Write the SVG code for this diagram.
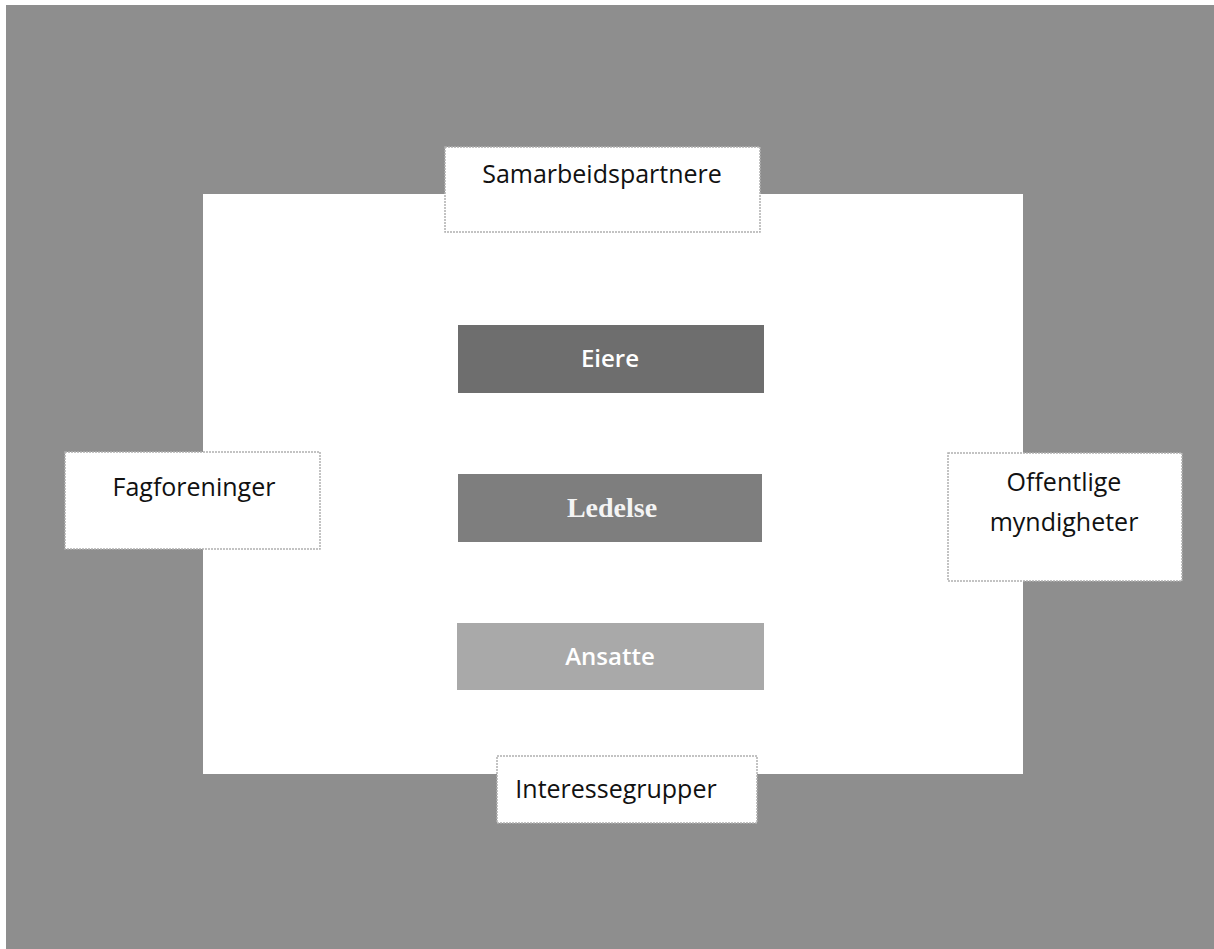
<svg xmlns="http://www.w3.org/2000/svg" width="1214" height="949" viewBox="0 0 1214 949">
<style>
.outer{fill:#ffffff;stroke:#b0b0b0;stroke-width:1.5;stroke-dasharray:2 1}
.lbl{font-family:"Open Sans","Liberation Sans",sans-serif;font-size:25px;fill:#111;text-anchor:middle}
.inlbl{font-family:"Open Sans","Liberation Sans",sans-serif;font-size:24px;font-weight:600;fill:#fff;text-anchor:middle}
.serif{font-family:"Liberation Serif",serif;font-size:28px;font-weight:bold;fill:#f4f4f4;text-anchor:middle}
</style>
<rect x="0" y="0" width="1214" height="949" fill="#ffffff"/>
<rect id="background" x="6" y="5" width="1208" height="944" fill="#8e8e8e"/>
<rect id="inner" x="203" y="194" width="820" height="580" fill="#ffffff"/>
<g id="samarbeidspartnere">
<rect class="outer" x="445" y="147" width="315" height="85"/>
<text class="lbl" x="602" y="183">Samarbeidspartnere</text>
</g>
<g id="eiere">
<rect x="458" y="325" width="306" height="68" fill="#6e6e6e"/>
<text class="inlbl" x="610" y="367">Eiere</text>
</g>
<g id="ledelse">
<rect x="458" y="474" width="304" height="68" fill="#7e7e7e"/>
<text class="serif" x="612" y="517">Ledelse</text>
</g>
<g id="ansatte">
<rect x="457" y="623" width="307" height="67" fill="#a9a9a9"/>
<text class="inlbl" x="610" y="665">Ansatte</text>
</g>
<g id="fagforeninger">
<rect class="outer" x="65" y="452" width="255" height="97"/>
<text class="lbl" x="194" y="496">Fagforeninger</text>
</g>
<g id="offentlige">
<rect class="outer" x="948" y="453" width="234" height="128"/>
<text class="lbl" x="1064" y="491">Offentlige</text>
<text class="lbl" x="1064" y="531">myndigheter</text>
</g>
<g id="interessegrupper">
<rect class="outer" x="497" y="756" width="260" height="67"/>
<text class="lbl" x="616" y="798">Interessegrupper</text>
</g>
<g id="connectors"></g>
</svg>
